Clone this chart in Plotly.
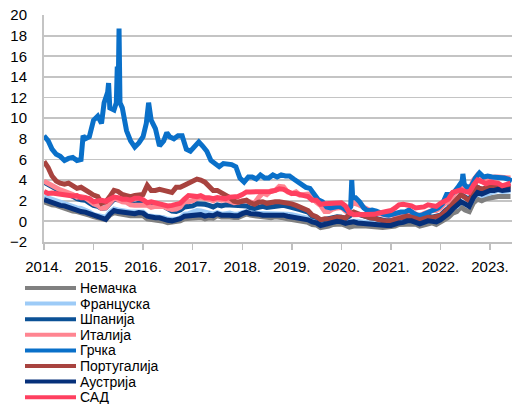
import pandas as pd
import plotly.graph_objects as go

# ---- data (monthly, Jan 2014 - Jun 2023) ----
months = pd.date_range("2014-01-01", periods=114, freq="MS")

germany = [
    1.90, 1.70, 1.60, 1.55, 1.40, 1.35, 1.20, 1.00, 0.95, 0.85, 0.80, 0.60,
    0.45, 0.35, 0.25, 0.15, 0.60, 0.85, 0.75, 0.65, 0.65, 0.55, 0.55, 0.60,
    0.55, 0.25, 0.20, 0.15, 0.15, 0.00, -0.12, -0.10, -0.08, 0.05, 0.25, 0.28,
    0.35, 0.35, 0.40, 0.25, 0.35, 0.30, 0.55, 0.42, 0.45, 0.42, 0.37, 0.38,
    0.55, 0.72, 0.60, 0.55, 0.50, 0.35, 0.35, 0.35, 0.45, 0.45, 0.35, 0.25,
    0.20, 0.12, 0.00, 0.00, -0.10, -0.30, -0.35, -0.60, -0.55, -0.45, -0.30, -0.25,
    -0.25, -0.40, -0.55, -0.45, -0.50, -0.45, -0.45, -0.50, -0.45, -0.55, -0.60, -0.55,
    -0.55, -0.45, -0.30, -0.30, -0.20, -0.18, -0.25, -0.45, -0.35, -0.15, -0.15, -0.30,
    -0.05, 0.20, 0.40, 0.80, 0.95, 1.40, 1.10, 0.95, 1.80, 2.15, 2.00, 2.20,
    2.30, 2.40, 2.40, 2.40, 2.35, 2.40,
]
france = [
    2.40, 2.25, 2.10, 2.00, 1.80, 1.70, 1.55, 1.35, 1.30, 1.25, 1.10, 0.90,
    0.65, 0.60, 0.50, 0.40, 0.90, 1.20, 1.10, 1.00, 1.00, 0.90, 0.90, 0.95,
    0.90, 0.55, 0.50, 0.50, 0.50, 0.35, 0.20, 0.15, 0.20, 0.35, 0.70, 0.75,
    0.95, 1.05, 1.00, 0.90, 0.85, 0.70, 0.85, 0.70, 0.75, 0.80, 0.70, 0.70,
    0.85, 0.95, 0.80, 0.80, 0.80, 0.70, 0.70, 0.70, 0.80, 0.80, 0.70, 0.70,
    0.65, 0.55, 0.45, 0.40, 0.30, 0.00, -0.05, -0.35, -0.25, -0.10, 0.05, 0.05,
    0.05, -0.10, 0.00, 0.05, 0.00, -0.05, -0.10, -0.15, -0.20, -0.30, -0.30, -0.33,
    -0.30, -0.10, -0.10, 0.05, 0.20, 0.15, 0.05, -0.10, 0.05, 0.20, 0.10, 0.15,
    0.30, 0.60, 0.90, 1.30, 1.45, 1.90, 1.70, 1.50, 2.30, 2.70, 2.50, 2.60,
    2.80, 2.90, 3.00, 2.90, 2.90, 2.95,
]
spain = [
    3.80, 3.55, 3.30, 3.15, 2.95, 2.70, 2.65, 2.40, 2.20, 2.10, 2.05, 1.80,
    1.55, 1.45, 1.25, 1.30, 1.75, 2.15, 2.10, 2.05, 2.05, 1.75, 1.65, 1.75,
    1.80, 1.65, 1.50, 1.55, 1.60, 1.45, 1.20, 1.00, 0.95, 1.10, 1.40, 1.45,
    1.50, 1.70, 1.70, 1.65, 1.55, 1.40, 1.60, 1.50, 1.60, 1.60, 1.50, 1.50,
    1.55, 1.50, 1.30, 1.25, 1.35, 1.45, 1.35, 1.40, 1.50, 1.60, 1.55, 1.45,
    1.40, 1.25, 1.15, 1.05, 0.90, 0.50, 0.40, 0.10, 0.20, 0.25, 0.40, 0.45,
    0.40, 0.30, 0.50, 0.80, 0.70, 0.55, 0.45, 0.35, 0.30, 0.20, 0.10, 0.05,
    0.05, 0.25, 0.35, 0.40, 0.50, 0.45, 0.35, 0.25, 0.35, 0.50, 0.40, 0.45,
    0.60, 1.00, 1.30, 1.80, 2.05, 2.60, 2.35, 2.10, 2.90, 3.30, 3.10, 3.20,
    3.40, 3.40, 3.50, 3.40, 3.40, 3.40,
]
italy = [
    3.90, 3.65, 3.40, 3.20, 3.05, 2.90, 2.80, 2.60, 2.35, 2.40, 2.30, 2.00,
    1.70, 1.55, 1.25, 1.30, 1.80, 2.25, 2.10, 1.90, 1.85, 1.60, 1.55, 1.60,
    1.55, 1.55, 1.35, 1.45, 1.50, 1.45, 1.25, 1.15, 1.20, 1.40, 1.95, 1.90,
    2.00, 2.25, 2.30, 2.25, 2.15, 2.00, 2.20, 2.05, 2.10, 1.95, 1.80, 1.85,
    2.00, 2.00, 1.90, 1.75, 2.30, 2.75, 2.60, 2.95, 3.00, 3.40, 3.35, 2.85,
    2.70, 2.85, 2.55, 2.60, 2.65, 2.35, 1.85, 1.55, 0.95, 0.95, 1.20, 1.30,
    1.35, 1.00, 1.45, 1.80, 1.65, 1.40, 1.20, 1.05, 0.95, 0.75, 0.65, 0.60,
    0.60, 0.55, 0.65, 0.70, 0.95, 0.90, 0.70, 0.55, 0.75, 0.95, 1.05, 1.05,
    1.30, 1.70, 1.90, 2.40, 2.90, 3.50, 3.40, 3.00, 4.00, 4.50, 4.10, 4.20,
    4.30, 4.30, 4.30, 4.30, 4.30, 4.20,
]
portugal = [
    5.80, 5.20, 4.40, 3.90, 3.70, 3.60, 3.70, 3.40, 3.20, 3.30, 3.10, 2.80,
    2.55, 2.40, 1.75, 1.90, 2.40, 3.00, 2.90, 2.60, 2.50, 2.40, 2.50, 2.60,
    2.60, 3.50, 3.00, 3.00, 3.10, 3.00, 2.95, 2.80, 3.30, 3.30, 3.50, 3.70,
    3.90, 4.10, 4.00, 3.80, 3.40, 3.00, 3.00, 2.80, 2.60, 2.30, 1.95, 1.85,
    1.95, 2.05, 1.80, 1.65, 1.85, 1.90, 1.75, 1.85, 1.90, 1.90, 1.85, 1.75,
    1.70, 1.55, 1.40, 1.25, 1.05, 0.60, 0.45, 0.15, 0.25, 0.20, 0.35, 0.40,
    0.40, 0.30, 0.70, 0.90, 0.75, 0.60, 0.45, 0.35, 0.30, 0.15, 0.05, 0.03,
    0.05, 0.20, 0.25, 0.40, 0.50, 0.45, 0.30, 0.15, 0.25, 0.40, 0.35, 0.40,
    0.55, 0.90, 1.20, 1.70, 2.10, 2.60, 2.30, 2.00, 2.80, 3.30, 3.10, 3.20,
    3.40, 3.30, 3.40, 3.30, 3.20, 3.20,
]
austria = [
    2.10, 1.95, 1.80, 1.70, 1.55, 1.50, 1.35, 1.15, 1.05, 0.95, 0.90, 0.75,
    0.55, 0.40, 0.30, 0.20, 0.70, 1.05, 0.95, 0.90, 0.85, 0.80, 0.75, 0.85,
    0.80, 0.50, 0.40, 0.35, 0.35, 0.20, 0.10, 0.05, 0.10, 0.25, 0.50, 0.55,
    0.60, 0.60, 0.65, 0.50, 0.60, 0.55, 0.75, 0.60, 0.65, 0.60, 0.55, 0.55,
    0.75, 0.90, 0.75, 0.75, 0.70, 0.60, 0.60, 0.60, 0.70, 0.70, 0.60, 0.50,
    0.45, 0.40, 0.25, 0.25, 0.15, -0.05, -0.15, -0.40, -0.30, -0.20, -0.05, 0.00,
    -0.05, -0.20, -0.10, -0.05, -0.15, -0.20, -0.25, -0.30, -0.30, -0.40, -0.45, -0.40,
    -0.40, -0.25, -0.15, -0.10, 0.05, 0.05, -0.05, -0.25, -0.10, 0.05, 0.00, -0.05,
    0.15, 0.45, 0.75, 1.20, 1.50, 1.90, 1.70, 1.45, 2.30, 2.80, 2.65, 2.80,
    3.00, 3.00, 3.10, 3.00, 3.00, 3.10,
]
usa = [
    2.90, 2.70, 2.75, 2.70, 2.55, 2.60, 2.55, 2.45, 2.50, 2.30, 2.30, 2.20,
    1.90, 1.95, 2.05, 1.95, 2.20, 2.35, 2.30, 2.15, 2.15, 2.05, 2.25, 2.25,
    2.10, 1.80, 1.90, 1.80, 1.80, 1.65, 1.50, 1.55, 1.60, 1.75, 2.15, 2.50,
    2.45, 2.40, 2.50, 2.30, 2.30, 2.20, 2.30, 2.20, 2.20, 2.35, 2.35, 2.40,
    2.60, 2.85, 2.85, 2.85, 2.95, 2.90, 2.90, 2.90, 3.00, 3.15, 3.10, 2.85,
    2.70, 2.70, 2.55, 2.50, 2.40, 2.05, 2.05, 1.65, 1.70, 1.75, 1.80, 1.85,
    1.80, 1.50, 0.85, 0.65, 0.65, 0.70, 0.60, 0.60, 0.68, 0.80, 0.85, 0.92,
    1.05, 1.30, 1.60, 1.65, 1.60, 1.50, 1.30, 1.30, 1.40, 1.60, 1.55, 1.45,
    1.75, 1.95, 2.15, 2.80, 2.95, 3.05, 2.90, 2.80, 3.50, 4.00, 3.85, 3.65,
    3.80, 3.80, 3.70, 3.45, 3.60, 3.70,
]

greece_dates = [
    "2014-01-01", "2014-02-01", "2014-03-01", "2014-04-01", "2014-05-01", "2014-06-01",
    "2014-07-01", "2014-08-01", "2014-09-01", "2014-10-01", "2014-10-16", "2014-11-01",
    "2014-12-01", "2014-12-20", "2015-01-01", "2015-02-01", "2015-03-01", "2015-03-20",
    "2015-04-15", "2015-04-22", "2015-05-01", "2015-06-01", "2015-06-18", "2015-06-25",
    "2015-07-01", "2015-07-08", "2015-07-15", "2015-08-01", "2015-08-20", "2015-09-01",
    "2015-10-01", "2015-11-01", "2015-12-01", "2016-01-01", "2016-01-25", "2016-02-11",
    "2016-03-01", "2016-04-01", "2016-05-01", "2016-06-01", "2016-06-24", "2016-07-15",
    "2016-08-15", "2016-09-15", "2016-10-15", "2016-11-15", "2016-12-15", "2017-01-15",
    "2017-02-15", "2017-03-15", "2017-04-15", "2017-05-15", "2017-06-15", "2017-07-15",
    "2017-08-15", "2017-09-15", "2017-10-15", "2017-11-15", "2017-12-15", "2018-01-15",
    "2018-02-15", "2018-03-15", "2018-04-15", "2018-05-15", "2018-06-15", "2018-07-15",
    "2018-08-15", "2018-09-15", "2018-10-15", "2018-11-15", "2018-12-15", "2019-01-15",
    "2019-02-15", "2019-03-15", "2019-04-15", "2019-05-15", "2019-06-15", "2019-07-15",
    "2019-08-15", "2019-09-15", "2019-10-15", "2019-11-15", "2019-12-15", "2020-01-15",
    "2020-02-15", "2020-03-10", "2020-03-18", "2020-03-25", "2020-04-15", "2020-05-15",
    "2020-06-15", "2020-07-15", "2020-08-15", "2020-09-15", "2020-10-15", "2020-11-15",
    "2020-12-15", "2021-01-15", "2021-02-15", "2021-03-15", "2021-04-15", "2021-05-15",
    "2021-06-15", "2021-07-15", "2021-08-15", "2021-09-15", "2021-10-15", "2021-11-15",
    "2021-12-15", "2022-01-15", "2022-02-15", "2022-03-15", "2022-04-15", "2022-05-15",
    "2022-06-10", "2022-06-15", "2022-06-25", "2022-07-15", "2022-08-15", "2022-09-15",
    "2022-10-15", "2022-11-15", "2022-12-15", "2023-01-15", "2023-02-15", "2023-03-15",
    "2023-04-15", "2023-05-15", "2023-06-12",
]
greece = [
    8.30, 7.80, 7.00, 6.50, 6.30, 5.90,
    6.10, 6.20, 5.90, 6.00, 8.30, 8.00,
    8.20, 9.40, 9.80, 10.20, 9.50, 11.50,
    12.50, 13.40, 11.00, 10.80, 11.50, 15.00,
    12.00, 18.70, 11.50, 11.00, 9.50, 8.80,
    7.80, 7.20, 7.60, 8.20, 9.50, 11.50,
    9.80, 9.00, 7.30, 7.80, 8.60, 8.20,
    8.00, 8.30, 8.30, 7.00, 6.80, 7.20,
    7.70, 7.30, 6.80, 5.90, 5.60, 5.30,
    5.60, 5.60, 5.50, 5.30, 4.20, 3.80,
    4.30, 4.30, 4.10, 4.50, 4.20, 4.20,
    4.50, 4.30, 4.50, 4.40, 4.40, 4.10,
    3.80, 3.60, 3.30, 3.20, 2.60, 2.10,
    1.90, 1.40, 1.30, 1.40, 1.45, 1.30,
    1.00, 1.40, 4.00, 2.30, 2.30, 1.90,
    1.30, 1.00, 1.10, 1.00, 0.80, 0.65,
    0.60, 0.70, 0.90, 0.90, 0.90, 1.10,
    0.80, 0.60, 0.60, 0.80, 0.90, 1.20,
    1.30, 1.70, 2.60, 2.60, 2.90, 3.40,
    3.90, 4.60, 3.60, 3.30, 3.40, 4.20,
    4.70, 4.30, 4.40, 4.30, 4.30, 4.20,
    4.20, 4.10, 3.90,
]

year_ticks = [f"{y}-01-01" for y in range(2014, 2024)]
year_labels = [f"{y}." for y in range(2014, 2024)]

series = [
    ("Немачка", months, germany, "#808080"),
    ("Француска", months, france, "#9DCBF7"),
    ("Шпанија", months, spain, "#0B5196"),
    ("Италија", months, italy, "#FF8591"),
    ("Грчка", greece_dates, greece, "#0A70C9"),
    ("Португалија", months, portugal, "#A8433F"),
    ("Аустрија", months, austria, "#06307A"),
    ("САД", months, usa, "#FF4060"),
]

# ---- layout geometry (pixels) ----
W, H = 512, 404
ML, MR, MT, MB = 44, 0, 15, 162
PW, PH = W - ML - MR, H - MT - MB


def px_x(px):
    return (px - ML) / PW


def px_y(py):
    return (H - MB - py) / PH


font_family = "Liberation Sans, Arial, sans-serif"

fig = go.Figure()
for name, x, y, color in series:
    fig.add_trace(go.Scatter(
        x=x, y=y, mode="lines", name=name,
        line=dict(color=color, width=5),
    ))

# legend drawn below the plot, one row per series
leg_top, leg_step = 288.0, 15.6
shapes, annotations = [], []
for i, (name, _, _, color) in enumerate(series):
    yc = px_y(leg_top + i * leg_step)
    shapes.append(dict(
        type="line", xref="paper", yref="paper",
        x0=px_x(25), x1=px_x(76), y0=yc, y1=yc,
        line=dict(color=color, width=4),
    ))
    annotations.append(dict(
        text=name, xref="paper", yref="paper",
        x=px_x(79), y=yc, xanchor="left", yanchor="middle",
        showarrow=False, borderpad=0,
        font=dict(family=font_family, size=14, color="black"),
    ))

fig.update_layout(
    width=W, height=H,
    margin=dict(l=ML, r=MR, t=MT, b=MB, autoexpand=False),
    paper_bgcolor="white", plot_bgcolor="white",
    font=dict(family=font_family, size=15, color="black"),
    showlegend=False,
    shapes=shapes,
    annotations=annotations,
    xaxis=dict(
        type="date",
        range=["2014-01-01", "2023-06-12"],
        tickvals=year_ticks, ticktext=year_labels, tickangle=0,
        ticks="outside", ticklen=6, tickcolor="#BFBFBF", tickwidth=1.5,
        showline=True, linecolor="#BFBFBF", linewidth=2,
        showgrid=False, zeroline=False, automargin=False,
        tickfont=dict(size=15),
        ticklabelstandoff=4,
    ),
    yaxis=dict(
        range=[-2, 20], dtick=2, tick0=-2,
        showgrid=True, gridcolor="#C4C4C4", gridwidth=1.8,
        showline=True, linecolor="#C4C4C4", linewidth=2,
        zeroline=False, ticks="", automargin=False,
        tickfont=dict(size=15),
        ticklabelstandoff=12,
    ),
)

fig.write_html(
    "out.html",
    config={"displayModeBar": False, "staticPlot": True},
    post_script="document.body.style.margin='0';document.body.style.overflow='hidden';",
)
